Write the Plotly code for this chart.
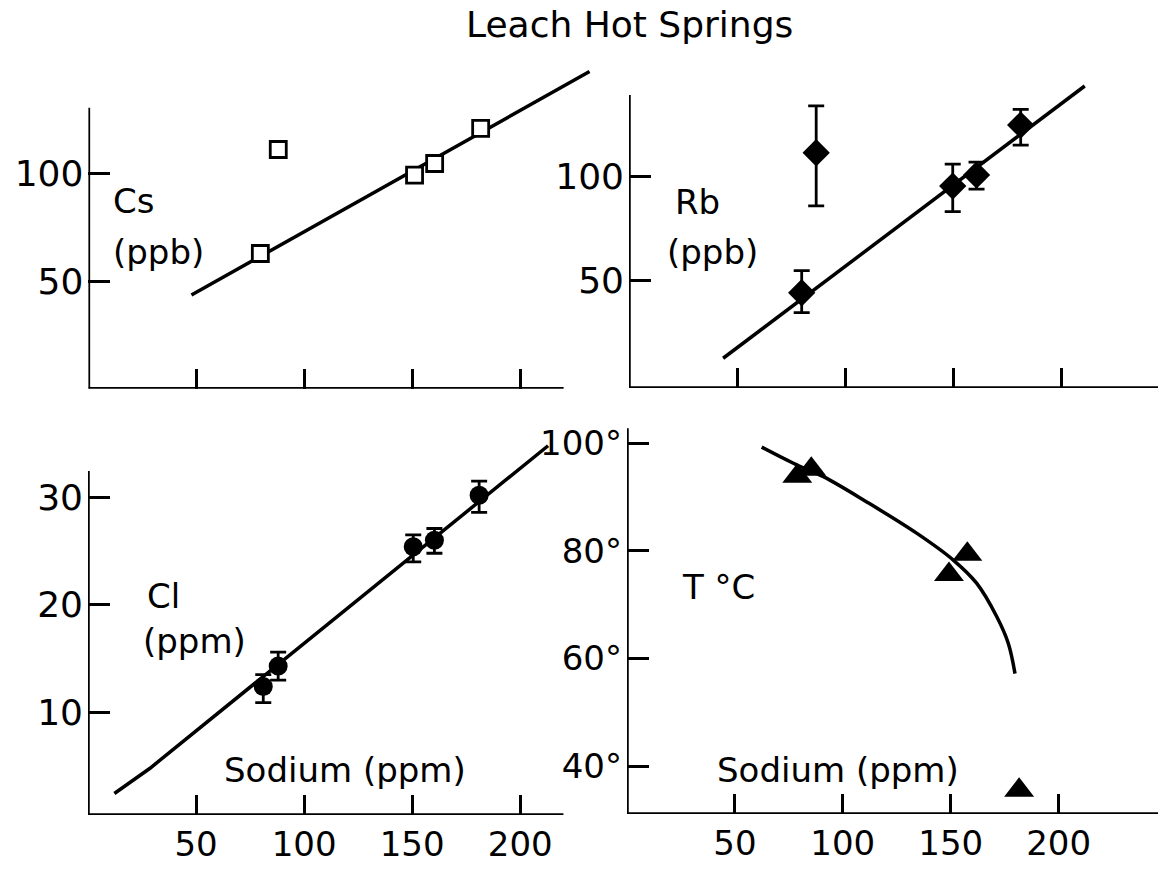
import plotly.graph_objects as go

W, H = 1158, 869

# ---------------- data ----------------
sodium_cs = [79.6, 87.9, 151.0, 160.3, 181.6]
cs_ppb = [62.8, 111.1, 99.2, 104.6, 120.9]
cs_fit_na = [47.7, 232.0]
cs_fit_val = [43.5, 147.3]

sodium_rb = [79.8, 86.5, 149.6, 160.6, 181.0]
rb_ppb = [44.2, 111.5, 95.5, 100.8, 124.8]
rb_err_plus = [10.6, 22.5, 10.5, 6.2, 7.6]
rb_err_minus = [9.6, 25.5, 12.3, 6.8, 9.6]
rb_fit_na = [43.5, 210.6]
rb_fit_val = [12.7, 143.6]

sodium_cl = [81.1, 88.0, 150.5, 160.3, 181.0]
cl_ppm = [12.4, 14.3, 25.4, 26.0, 30.2]
cl_err_plus = [1.1, 1.3, 1.1, 1.1, 1.3]
cl_err_minus = [1.5, 1.3, 1.4, 1.2, 1.6]
cl_fit_na = [12.2, 28.7, 212.9]
cl_fit_val = [2.45, 4.8, 34.8]

sodium_t = [78.9, 85.4, 149.2, 157.7, 181.7]
temp_c = [93.9, 95.2, 75.6, 79.4, 35.5]
t_curve_na = [62.4, 77.1, 91.0, 111.1, 134.2, 151.2, 162.0, 171.3, 176.7, 179.8]
t_curve_val = [99.3, 96.3, 93.8, 89.1, 83.3, 78.3, 74.0, 67.8, 62.8, 57.2]

x_ticks = [50, 100, 150, 200]
x_tick_labels = ["50", "100", "150", "200"]
cs_rb_yticks = [50, 100]
cl_yticks = [10, 20, 30]
t_yticks = [40, 60, 80, 100]
t_ytick_labels = ["40°", "60°", "80°", "100°"]

FONT = "DejaVu Sans"
BLACK = "black"
LW = 3.5


def px_x(p):
    return p / W


def px_y(p):
    return 1 - p / H


fig = go.Figure()

# ---------------- traces ----------------
# Cs (top-left) -> x, y
fig.add_trace(go.Scatter(x=cs_fit_na, y=cs_fit_val, mode="lines",
                         line=dict(color=BLACK, width=LW), xaxis="x", yaxis="y"))
fig.add_trace(go.Scatter(x=sodium_cs, y=cs_ppb, mode="markers",
                         marker=dict(symbol="square", size=16, color="white",
                                     line=dict(color=BLACK, width=2.8)),
                         cliponaxis=False, xaxis="x", yaxis="y"))

# Rb (top-right) -> x2, y2
fig.add_trace(go.Scatter(x=rb_fit_na, y=rb_fit_val, mode="lines",
                         line=dict(color=BLACK, width=LW), xaxis="x2", yaxis="y2"))
fig.add_trace(go.Scatter(x=sodium_rb, y=rb_ppb, mode="markers",
                         marker=dict(symbol="diamond", size=21, color=BLACK),
                         error_y=dict(type="data", symmetric=False, array=rb_err_plus,
                                      arrayminus=rb_err_minus, color=BLACK,
                                      thickness=2.8, width=8),
                         cliponaxis=False, xaxis="x2", yaxis="y2"))

# Cl (bottom-left) -> x3, y3
fig.add_trace(go.Scatter(x=cl_fit_na, y=cl_fit_val, mode="lines",
                         line=dict(color=BLACK, width=LW), xaxis="x3", yaxis="y3"))
fig.add_trace(go.Scatter(x=sodium_cl, y=cl_ppm, mode="markers",
                         marker=dict(symbol="circle", size=19, color=BLACK),
                         error_y=dict(type="data", symmetric=False, array=cl_err_plus,
                                      arrayminus=cl_err_minus, color=BLACK,
                                      thickness=2.8, width=8),
                         cliponaxis=False, xaxis="x3", yaxis="y3"))

# T (bottom-right) -> x4, y4
fig.add_trace(go.Scatter(x=t_curve_na, y=t_curve_val, mode="lines",
                         line=dict(color=BLACK, width=LW, shape="spline", smoothing=1.0),
                         xaxis="x4", yaxis="y4"))
fig.add_trace(go.Scatter(x=sodium_t, y=temp_c, mode="markers",
                         marker=dict(symbol="triangle-up", size=26, color=BLACK),
                         cliponaxis=False, xaxis="x4", yaxis="y4"))

# ---------------- axes ----------------
def xaxis_cfg(domain_px, rng, labels, anchor):
    return dict(domain=[px_x(domain_px[0]), px_x(domain_px[1])], range=rng,
                anchor=anchor, showgrid=False, zeroline=False, showline=False,
                ticks="inside", ticklen=20, tickwidth=3, tickcolor=BLACK,
                tickvals=x_ticks, ticktext=x_tick_labels, showticklabels=labels,
                tickfont=dict(family=FONT, size=34, color=BLACK),
                ticklabelstandoff=6, fixedrange=True)


def yaxis_cfg(domain_px, rng, vals, text, anchor, size=36):
    return dict(domain=[px_y(domain_px[1]), px_y(domain_px[0])], range=rng,
                anchor=anchor, showgrid=False, zeroline=False, showline=False,
                ticks="inside", ticklen=22, tickwidth=3, tickcolor=BLACK,
                tickvals=vals, ticktext=text,
                tickfont=dict(family=FONT, size=size, color=BLACK),
                ticklabelstandoff=4, fixedrange=True)


# top-left
TL_x0, TL_k = 88.4, 2.16
TL_xr = [0, 235]
TL_yb, TL_ky = 388.7, 2.153
TL_yr = [0, 150]
# top-right
TR_x0, TR_k = 629.0, 2.164
TR_xr = [0, (W - 629.0) / 2.164]
TR_yb, TR_ky = 388.0, 2.08
TR_yr = [-1.6, 146]
# bottom-left
BL_x0, BL_k = 88.0, 2.161
BL_xr = [0, 235]
BL_yb, BL_ky = 815.0, 10.75
BL_yr = [0.45, 36]
# bottom-right
BR_x0, BR_k = 627.0, 2.158
BR_xr = [0, (W - 627.0) / 2.158]
BR_yb, BR_ky = 814.0, 5.38
BR_yr = [31.1, 104]


def xdom(x0, k, r):
    return (x0, x0 + (r[1] - r[0]) * k)


def ydom(yb, k, r):
    return (yb - (r[1] - r[0]) * k, yb)


fig.update_layout(
    xaxis=xaxis_cfg(xdom(TL_x0, TL_k, TL_xr), TL_xr, False, "y"),
    yaxis=yaxis_cfg(ydom(TL_yb, TL_ky, TL_yr), TL_yr, cs_rb_yticks,
                    [str(v) for v in cs_rb_yticks], "x"),
    xaxis2=xaxis_cfg(xdom(TR_x0, TR_k, TR_xr), TR_xr, False, "y2"),
    yaxis2=yaxis_cfg(ydom(TR_yb, TR_ky, TR_yr), TR_yr, cs_rb_yticks,
                     [str(v) for v in cs_rb_yticks], "x2"),
    xaxis3=xaxis_cfg(xdom(BL_x0, BL_k, BL_xr), BL_xr, True, "y3"),
    yaxis3=yaxis_cfg(ydom(BL_yb, BL_ky, BL_yr), BL_yr, cl_yticks,
                     [str(v) for v in cl_yticks], "x3"),
    xaxis4=xaxis_cfg(xdom(BR_x0, BR_k, BR_xr), BR_xr, True, "y4"),
    yaxis4=yaxis_cfg(ydom(BR_yb, BR_ky, BR_yr), BR_yr, t_yticks,
                     t_ytick_labels, "x4", size=34),
)

# ---------------- axis lines (drawn lengths) ----------------
axis_lines = [
    ("x", "y", TL_xr[0], TL_yr[0], 220, 130.5),
    ("x2", "y2", TR_xr[0], TR_yr[0], TR_xr[1], 139.3),
    ("x3", "y3", BL_xr[0], BL_yr[0], 220, 32.45),
    ("x4", "y4", BR_xr[0], BR_yr[0], BR_xr[1], 102.8),
]
for xr, yr, x0, y0, xend, yend in axis_lines:
    fig.add_shape(type="line", xref=xr, yref=yr, x0=x0, y0=y0, x1=xend, y1=y0,
                  line=dict(color=BLACK, width=3.5))
    fig.add_shape(type="line", xref=xr, yref=yr, x0=x0, y0=y0, x1=x0, y1=yend,
                  line=dict(color=BLACK, width=3.5))

# ---------------- text ----------------
def label(text, xp, yp, size=34, anchor="left"):
    fig.add_annotation(text=text, x=px_x(xp), y=px_y(yp), xref="paper", yref="paper",
                       xanchor=anchor, yanchor="middle", showarrow=False,
                       font=dict(family=FONT, size=size, color=BLACK))


label("Leach Hot Springs", 629, 25, size=36, anchor="center")
label("Cs", 111, 201)
label("(ppb)", 111, 252)
label("Rb", 673, 202)
label("(ppb)", 665, 252)
label("Cl", 145, 596)
label("(ppm)", 141, 641)
label("T °C", 680, 587)
label("Sodium (ppm)", 345, 770, size=34, anchor="center")
label("Sodium (ppm)", 838, 770, size=34, anchor="center")

fig.update_layout(
    width=W, height=H, margin=dict(l=0, r=0, t=0, b=0),
    paper_bgcolor="white", plot_bgcolor="white", showlegend=False,
)

fig.write_html("out.html", config={"displayModeBar": False})
